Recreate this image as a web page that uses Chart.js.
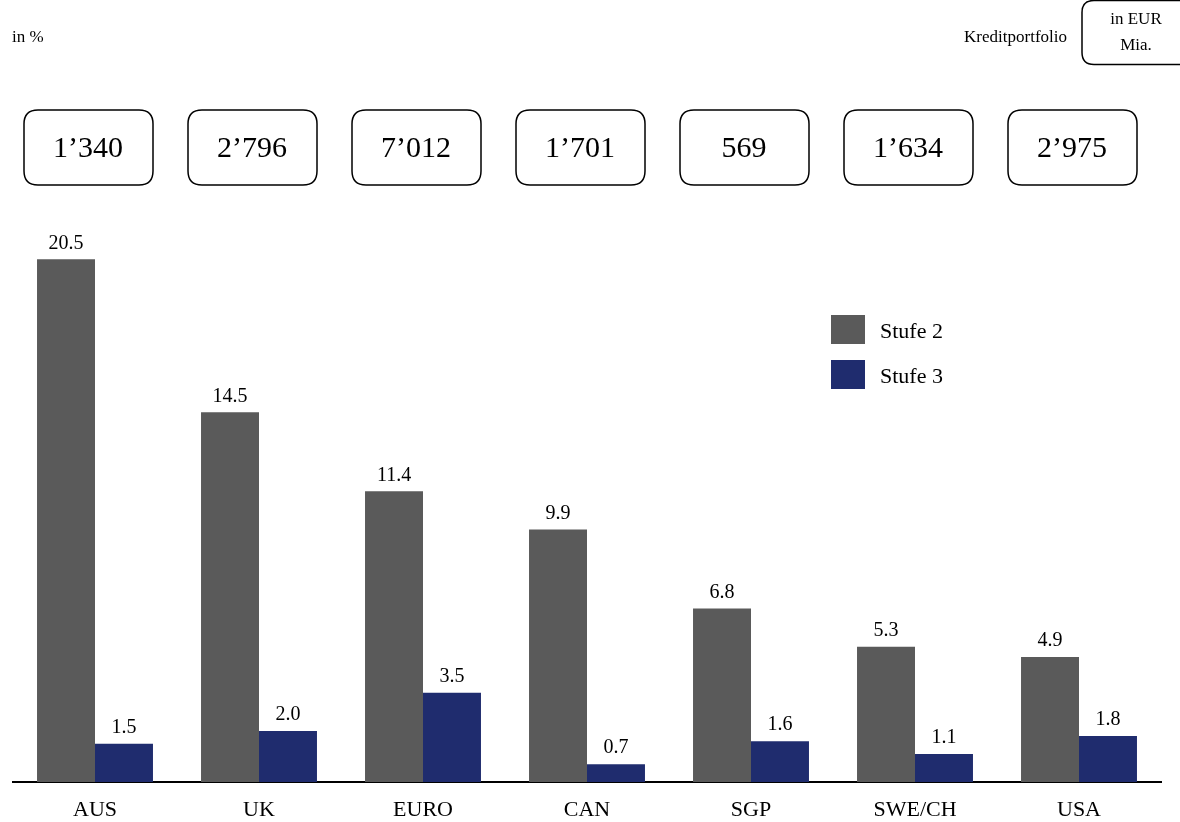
<!DOCTYPE html>
<html>
<head>
<meta charset="utf-8">
<script src="https://cdn.jsdelivr.net/npm/chart.js@4/dist/chart.umd.min.js"></script>
<style>
  html, body { margin: 0; padding: 0; background: #fff; }
  #wrap { width: 1180px; height: 822px; position: relative; }
</style>
</head>
<body>
<div id="wrap"><canvas id="c" width="1180" height="822"></canvas></div>
<script>
const regions = ['AUS', 'UK', 'EURO', 'CAN', 'SGP', 'SWE/CH', 'USA'];
const stufe2 = [20.5, 14.5, 11.4, 9.9, 6.8, 5.3, 4.9];
const stufe3 = [1.5, 2.0, 3.5, 0.7, 1.6, 1.1, 1.8];
const portfolio = ["1\u2019340", "2\u2019796", "7\u2019012", "1\u2019701", "569", "1\u2019634", "2\u2019975"];
const seriesNames = ['Stufe 2', 'Stufe 3'];

const FONT = "'Liberation Serif', 'DejaVu Serif', serif";
const GRAY = '#5a5a5a';
const NAVY = '#1f2c6e';

function roundRect(ctx, x, y, w, h, r) {
  ctx.beginPath();
  ctx.moveTo(x + r, y);
  ctx.lineTo(x + w - r, y);
  ctx.quadraticCurveTo(x + w, y, x + w, y + r);
  ctx.lineTo(x + w, y + h - r);
  ctx.quadraticCurveTo(x + w, y + h, x + w - r, y + h);
  ctx.lineTo(x + r, y + h);
  ctx.quadraticCurveTo(x, y + h, x, y + h - r);
  ctx.lineTo(x, y + r);
  ctx.quadraticCurveTo(x, y, x + r, y);
  ctx.closePath();
}

// Value labels above each bar
const valueLabels = {
  id: 'valueLabels',
  afterDatasetsDraw(chart) {
    const ctx = chart.ctx;
    ctx.save();
    ctx.font = '20px ' + FONT;
    ctx.fillStyle = '#000';
    ctx.textAlign = 'center';
    ctx.textBaseline = 'bottom';
    chart.data.datasets.forEach((ds, di) => {
      chart.getDatasetMeta(di).data.forEach((bar, i) => {
        ctx.fillText(ds.data[i].toFixed(1), bar.x, bar.y - 6);
      });
    });
    ctx.restore();
  }
};

// Header texts, portfolio boxes and legend
const decorations = {
  id: 'decorations',
  afterDraw(chart) {
    const ctx = chart.ctx;
    const xs = chart.scales.x;
    ctx.save();
    ctx.fillStyle = '#000';
    ctx.strokeStyle = '#000';
    ctx.lineWidth = 1.5;

    ctx.font = '17px ' + FONT;
    ctx.textBaseline = 'middle';
    ctx.textAlign = 'left';
    ctx.fillText('in %', 12, 38);
    ctx.textAlign = 'right';
    ctx.fillText('Kreditportfolio', 1067, 38);

    roundRect(ctx, 1082, 0.5, 110, 64, 12);
    ctx.stroke();
    ctx.textAlign = 'center';
    ctx.fillText('in EUR', 1136, 20);
    ctx.fillText('Mia.', 1136, 46);

    // portfolio volume boxes per region
    ctx.font = '30px ' + FONT;
    portfolio.forEach((txt, i) => {
      const cx = xs.getPixelForValue(i) - 7;
      roundRect(ctx, cx - 64, 110, 129, 75, 14);
      ctx.stroke();
      ctx.fillText(txt, cx, 149);
    });

    // legend
    ctx.font = '22px ' + FONT;
    ctx.textAlign = 'left';
    chart.data.datasets.forEach((ds, di) => {
      const y = 315 + di * 45;
      ctx.fillStyle = ds.backgroundColor;
      ctx.fillRect(831, y, 34, 29);
      ctx.fillStyle = '#000';
      ctx.fillText(ds.label, 880, y + 17);
    });
    ctx.restore();
  }
};

new Chart(document.getElementById('c'), {
  type: 'bar',
  data: {
    labels: regions,
    datasets: [
      { label: seriesNames[0], data: stufe2, backgroundColor: GRAY },
      { label: seriesNames[1], data: stufe3, backgroundColor: NAVY }
    ]
  },
  options: {
    responsive: false,
    animation: false,
    events: [],
    layout: { padding: { left: 13, right: 19, top: 221, bottom: 0 } },
    plugins: { legend: { display: false }, tooltip: { enabled: false } },
    datasets: { bar: { categoryPercentage: 0.707, barPercentage: 1.0 } },
    scales: {
      x: {
        grid: { display: false, drawTicks: false },
        border: { display: true, color: '#000', width: 2 },
        ticks: { color: '#000', font: { family: FONT, size: 22 }, padding: 15 },
        afterFit(scale) { scale.height = 40; }
      },
      y: {
        display: false,
        min: 0,
        max: 22
      }
    }
  },
  plugins: [valueLabels, decorations]
});
</script>
</body>
</html>
